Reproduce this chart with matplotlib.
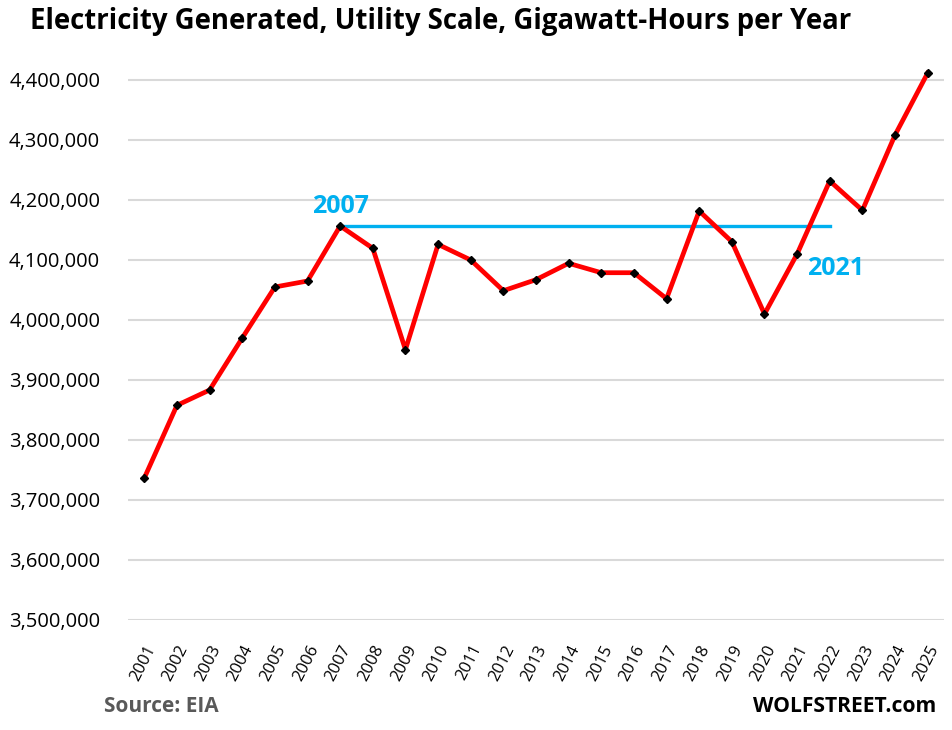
import matplotlib.pyplot as plt
from matplotlib.ticker import FuncFormatter, MultipleLocator

years = [str(y) for y in range(2001, 2026)]
gwh = [3736700, 3857800, 3883300, 3970000, 4055000, 4065000, 4156700, 4119500,
       3950500, 4126000, 4100000, 4048800, 4067200, 4094500, 4078800, 4078800,
       4035500, 4181700, 4130500, 4010000, 4110000, 4231700, 4182800, 4308300,
       4411700]

# flat line at the 2007 level, drawn over to 2022
ref_start, ref_end = "2007", "2022"

plt.rcParams['font.family'] = ['Open Sans', 'DejaVu Sans']

fig = plt.figure(figsize=(9.52, 7.3), dpi=100)
ax = fig.add_axes([128 / 952, 110 / 730, 816 / 952, 552 / 730])

x = list(range(len(years)))
ax.plot(x, gwh, color='#FF0000', lw=3.4, zorder=3, clip_on=False,
        marker='D', ms=4.5, mfc='black', mec='black')

i0, i1 = years.index(ref_start), years.index(ref_end)
ax.plot([i0, i1], [gwh[i0], gwh[i0]], color='#00B0F0', lw=2.4, zorder=2)

ax.text(i0, gwh[i0] + 12000, ref_start, color='#00B0F0', fontsize=18,
        fontweight='bold', ha='center', va='bottom')
ax.text(20.3, 4085000, "2021", color='#00B0F0', fontsize=18,
        fontweight='bold', ha='left', va='center')

ax.set_xlim(-0.5, len(years) - 0.5)
ax.set_ylim(3500000, 4420000)
ax.yaxis.set_major_locator(MultipleLocator(100000))
ax.yaxis.set_major_formatter(FuncFormatter(lambda v, p: f"{v:,.0f}"))
ax.grid(axis='y', color='#D9D9D9', lw=1.5)
ax.set_axisbelow(True)
for s in ax.spines.values():
    s.set_visible(False)

ax.set_xticks(x)
ax.set_xticklabels(years, rotation=63, ha='right', va='top',
                   rotation_mode='anchor', fontsize=12)
ax.tick_params(axis='x', length=0, pad=16)
ax.tick_params(axis='y', length=0, pad=20, labelsize=14.5)

fig.text(30 / 952, 1 - 22 / 730, "Electricity Generated, Utility Scale, Gigawatt-Hours per Year",
         fontsize=19.8, fontweight='bold', ha='left', va='center')
fig.text(104 / 952, 1 - 706 / 730, "Source: EIA", color='#595959',
         fontsize=15, fontweight='bold', ha='left', va='center')
fig.text(936 / 952, 1 - 706 / 730, "WOLFSTREET.com", color='black',
         fontsize=15.2, fontweight='bold', ha='right', va='center')

fig.savefig('out.png', dpi=100)
